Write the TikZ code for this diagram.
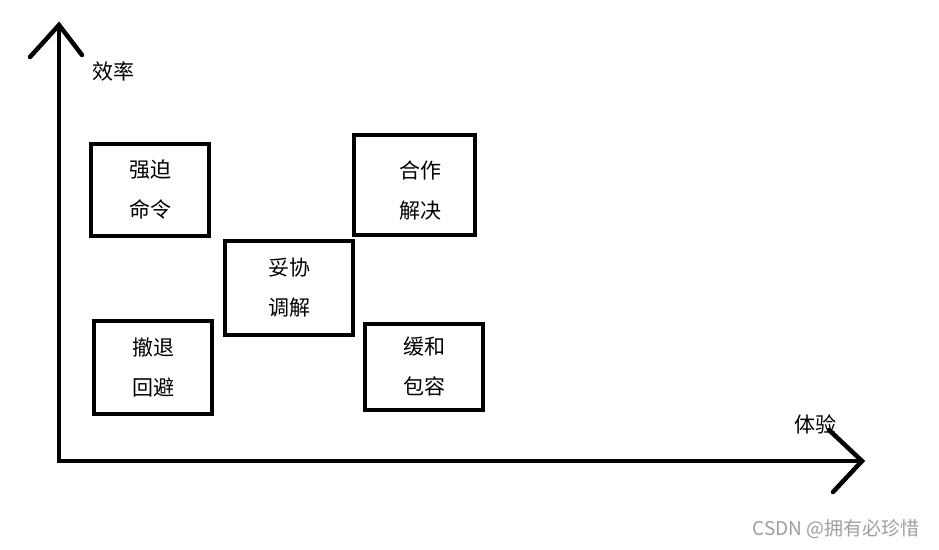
\documentclass[tikz,border=0pt]{standalone}
\usepackage{fontspec}
\setmainfont{Noto Sans CJK SC}
\usepackage{tikz}

\begin{document}
\begin{tikzpicture}[x=1pt, y=-1pt, every text node part/.style={align=center},
    box/.style={draw, line width=4pt, inner sep=0pt, font=\fontsize{21}{40}\selectfont},
    axis/.style={line width=4.5pt, line cap=round, line join=miter},
    lbl/.style={font=\fontsize{21}{24}\selectfont}]
    \useasboundingbox (0, 0) rectangle (939, 549);
    \coordinate (o) at (59, 461);
    \coordinate (ytop) at (59, 25);
    \coordinate (xend) at (862, 461);
    \coordinate (yl) at (30, 57);
    \coordinate (yr) at (82, 55);
    \coordinate (xu) at (829, 430);
    \coordinate (xd) at (833, 492);
    \draw[axis] (ytop) -- (o) -- (xend);
    \draw[axis] (yl) -- (ytop) -- (yr);
    \draw[axis] (xu) -- (xend) -- (xd);
    \node (ylab) [lbl] at (113, 71) {效率};
    \node (xlab) [lbl] at (815, 424) {体验};
    \node (a) [box, minimum width=118, minimum height=92] at (150, 190) {强迫\hspace{8pt}\\命令\hspace{8pt}};
    \node (b) [box, minimum width=121, minimum height=100] at (414.5, 185) {\hspace{12pt}\raisebox{-7pt}[16pt][4pt]{合作}\\\hspace{12pt}\raisebox{-7pt}[16pt][4pt]{解决}};
    \node (c) [box, minimum width=128, minimum height=94] at (289, 288) {妥协\\调解};
    \node (d) [box, minimum width=118, minimum height=93] at (153, 367.5) {撤退\\回避};
    \node (e) [box, minimum width=118, minimum height=86] at (424, 367) {缓和\\包容};
    \node (w) [anchor=east, text=black!38, font=\fontsize{19}{21}\selectfont] at (923, 529) {CSDN @拥有必珍惜};
  \end{tikzpicture}
\end{document}
